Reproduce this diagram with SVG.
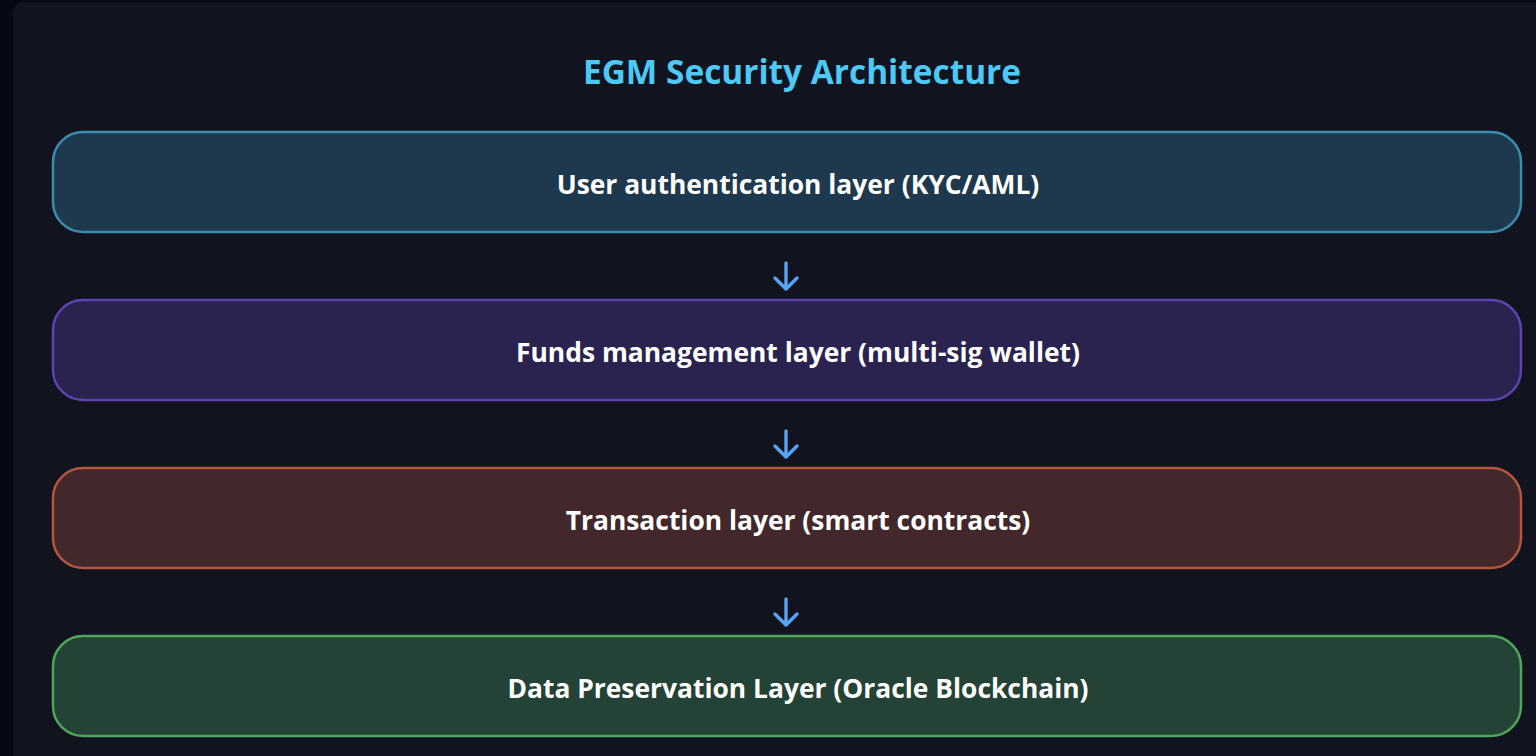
<svg xmlns="http://www.w3.org/2000/svg" width="1536" height="756" viewBox="0 0 1536 756">
<style>
.title{font-family:"Open Sans",Lato,sans-serif;font-weight:700;font-size:33.4px;fill:#4cc9f5;text-anchor:middle}
.lbl{font-family:"Open Sans",Lato,sans-serif;font-weight:700;font-size:26.4px;fill:#ffffff;text-anchor:middle}
.box{stroke-width:2.5}
.arr{fill:none;stroke:#5aa2f2;stroke-width:3.4;stroke-linecap:round;stroke-linejoin:round}
</style>
<rect x="0" y="0" width="1536" height="756" fill="#060815"/>
<rect x="13" y="2" width="1540" height="780" rx="10" fill="#11131f"/>
<text class="title" x="802" y="84">EGM Security Architecture</text>
<g id="connectors">
<path class="arr" d="M786 263V289M775 278L786 289L797 278"/>
<path class="arr" d="M786 431V457M775 446L786 457L797 446"/>
<path class="arr" d="M786 599V625M775 614L786 625L797 614"/>
</g>
<g id="node1">
<rect class="box" x="53" y="132" width="1468" height="100" rx="30" fill="#1e394d" stroke="#3b8db0"/>
<text class="lbl" x="798" y="193.5">User authentication layer (KYC/AML)</text>
</g>
<g id="node2">
<rect class="box" x="53" y="300" width="1468" height="100" rx="30" fill="#2a2350" stroke="#5a44b0"/>
<text class="lbl" x="798" y="361.5">Funds management layer (multi-sig wallet)</text>
</g>
<g id="node3">
<rect class="box" x="53" y="468" width="1468" height="100" rx="30" fill="#42282a" stroke="#b4563d"/>
<text class="lbl" x="798" y="529.5">Transaction layer (smart contracts)</text>
</g>
<g id="node4">
<rect class="box" x="53" y="636" width="1468" height="100" rx="30" fill="#244235" stroke="#4ea65b"/>
<text class="lbl" x="798" y="697.5">Data Preservation Layer (Oracle Blockchain)</text>
</g>
</svg>
